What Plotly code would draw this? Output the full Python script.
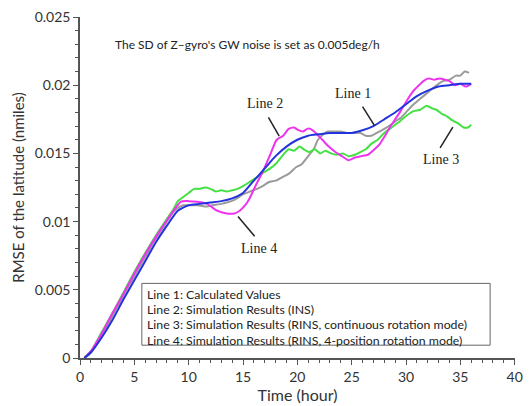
import plotly.graph_objects as go

# ---- data ----
x1 = [0.4, 1, 2, 3, 4, 5, 6, 7, 8, 9, 10, 11, 12, 13, 14, 15, 16, 17, 18, 19, 20, 21, 22, 23, 24, 25,
      26, 27, 28, 29, 30, 31, 32, 33, 34, 35, 36]
y1 = [0, 0.0004, 0.0015, 0.0028, 0.0043, 0.0057, 0.0071, 0.0085, 0.0097, 0.0108, 0.0112, 0.0113, 0.0114,
      0.0115, 0.0117, 0.0121, 0.0130, 0.0139, 0.0148, 0.0155, 0.0160, 0.0163, 0.0164, 0.0165, 0.0165,
      0.0165, 0.0167, 0.0170, 0.0175, 0.0180, 0.0186, 0.0192, 0.0196, 0.0199, 0.0200, 0.0201, 0.0201]

x2 = [0.4, 1, 2, 3, 4, 5, 6, 7, 8, 8.7, 9.3, 10, 10.8, 11.7, 12.6, 13.5, 14.2, 14.7, 15.2, 15.6, 16.2,
      16.9, 17.5, 18.1, 18.7, 19.2, 19.7, 20.1, 20.5, 20.9, 21.2, 21.7, 22.3, 22.9, 23.5, 24.1, 24.7,
      25.3, 25.9, 26.5, 27.1, 27.6, 28, 28.5, 29, 29.5, 30.1, 30.7, 31.2, 31.6, 32.1, 32.6, 33.1, 33.6,
      34, 34.5, 35, 35.5, 36]
y2 = [0, 0.0005, 0.0018, 0.0033, 0.0047, 0.0062, 0.0076, 0.0089, 0.0101, 0.0109, 0.01147, 0.0115,
      0.01145, 0.0113, 0.0108, 0.0106, 0.0106, 0.0108, 0.0112, 0.0117, 0.0127, 0.0138, 0.0149, 0.0160,
      0.0163, 0.0168, 0.0169, 0.0167, 0.0166, 0.0168, 0.0168, 0.0165, 0.0160, 0.0155, 0.0151, 0.0148,
      0.0145, 0.0147, 0.0148, 0.0149, 0.0153, 0.0157, 0.0162, 0.0169, 0.0175, 0.0181, 0.0189, 0.0196,
      0.0200, 0.0203, 0.0205, 0.0204, 0.0205, 0.0204, 0.0203, 0.0200, 0.0201, 0.0199, 0.0201]

x3 = [0.4, 1, 2, 3, 4, 5, 6, 7, 8, 8.6, 9, 9.5, 10, 10.5, 11, 11.5, 12, 12.5, 13, 13.5, 14, 14.5, 15,
      15.6, 16.2, 16.9, 17.5, 18.1, 18.6, 19.2, 19.7, 20.2, 20.6, 21.1, 21.6, 22.1, 22.6, 23.1, 23.6,
      24.2, 24.7, 25.3, 25.8, 26.3, 26.8, 27.4, 28, 28.5, 29, 29.5, 30.1, 30.7, 31.3, 31.9, 32.4, 32.8,
      33.3, 33.8, 34.3, 34.8, 35.3, 35.7, 36]
y3 = [0, 0.0005, 0.0019, 0.0033, 0.0048, 0.0063, 0.0077, 0.0090, 0.0102, 0.0109, 0.0115, 0.0118,
      0.0121, 0.0124, 0.0124, 0.0125, 0.0124, 0.0122, 0.0123, 0.0122, 0.0123, 0.0124, 0.0126, 0.0129,
      0.0132, 0.0136, 0.0139, 0.0143, 0.0148, 0.0153, 0.0152, 0.0155, 0.0153, 0.0151, 0.0153, 0.0150,
      0.0152, 0.0150, 0.0149, 0.0150, 0.0148, 0.0149, 0.0151, 0.0153, 0.0157, 0.0160, 0.0165, 0.0168,
      0.0171, 0.0174, 0.0178, 0.0181, 0.0182, 0.0185, 0.0183, 0.0182, 0.0179, 0.0177, 0.0174, 0.0172,
      0.0169, 0.0169, 0.0171]

x4 = [0.4, 1, 2, 3, 4, 5, 6, 7, 8, 8.6, 9, 9.5, 10, 10.8, 11.5, 12.2, 13, 13.5, 14.2, 15, 15.6, 16.3,
      16.8, 17.4, 18, 18.7, 19.2, 19.9, 20.4, 21, 21.5, 21.9, 22.4, 22.8, 23.4, 24, 24.6, 25.3, 25.8,
      26.3, 26.8, 27.3, 28, 28.6, 29.1, 29.5, 30.1, 30.7, 31.3, 31.9, 32.5, 33, 33.4, 34, 34.6, 35,
      35.4, 35.8]
y4 = [0, 0.0004, 0.0017, 0.0031, 0.0046, 0.0060, 0.0074, 0.0088, 0.0100, 0.0107, 0.0110, 0.0112,
      0.0112, 0.0112, 0.0111, 0.0112, 0.0113, 0.0114, 0.0116, 0.0120, 0.0122, 0.0124, 0.0126, 0.0129,
      0.0130, 0.0133, 0.0135, 0.0140, 0.0142, 0.0148, 0.0153, 0.0160, 0.0164, 0.0166, 0.0166, 0.0166,
      0.0165, 0.0165, 0.0165, 0.0163, 0.0163, 0.0165, 0.0168, 0.0171, 0.0174, 0.0176, 0.0181, 0.0186,
      0.0190, 0.0194, 0.0198, 0.0201, 0.0203, 0.0204, 0.0207, 0.0207, 0.0210, 0.0209]

legend_lines = [
    "Line 1: Calculated Values",
    "Line 2: Simulation Results (INS)",
    "Line 3: Simulation Results (RINS, continuous rotation mode)",
    "Line 4: Simulation Results (RINS, 4-position rotation mode)",
]
note_text = "The SD of Z\u2013gyro's GW noise is set as 0.005deg/h"

SANS = "Lato, 'Open Sans', sans-serif"
SERIF = "'Liberation Serif', 'DejaVu Serif', serif"

fig = go.Figure()
series = [
    (x4, y4, "#9a9a9a"),
    (x3, y3, "#44e044"),
    (x2, y2, "#ee33ee"),
    (x1, y1, "#2233dd"),
]
for xs, ys, c in series:
    fig.add_trace(go.Scatter(x=xs, y=ys, mode="lines", line=dict(color=c, width=2, shape="spline", smoothing=0.6),
                             showlegend=False, hoverinfo="skip"))

# label annotations with leader lines
labels = [
    ("Line 2", 16.98, 0.01865, 17.34, 0.01764, 18.33, 0.01627),
    ("Line 1", 25.1, 0.01937, 26.0, 0.01843, 27.09, 0.01706),
    ("Line 3", 33.2, 0.01454, 33.14, 0.01541, 34.31, 0.01692),
    ("Line 4", 16.43, 0.00806, 16.07, 0.00893, 14.54, 0.01037),
]
for txt, tx, ty, lx0, ly0, lx1, ly1 in labels:
    fig.add_annotation(x=tx, y=ty, text=txt, showarrow=False,
                       font=dict(family=SERIF, size=14, color="#222"))
    fig.add_shape(type="line", x0=lx0, y0=ly0, x1=lx1, y1=ly1, line=dict(color="#222", width=1.5))

fig.add_annotation(x=3.07, y=0.02297, xanchor="left", yanchor="middle", text=note_text, showarrow=False,
                   font=dict(family=SANS, size=12, color="#222"))

# legend box
fig.add_shape(type="rect", x0=5.69, x1=37.74, y0=0.00094, y1=0.00547,
              line=dict(color="#666", width=1), fillcolor="rgba(0,0,0,0)")
leg_y = [0.00466, 0.00354, 0.00242, 0.00130]
for txt, yy in zip(legend_lines, leg_y):
    fig.add_annotation(x=6.0, y=yy, xanchor="left", yanchor="middle", align="left",
                       text=txt, showarrow=False,
                       font=dict(family=SANS, size=12.3, color="#222"))

axis_common = dict(showline=True, linecolor="#555", linewidth=1.5, ticks="outside", ticklen=5,
                   tickcolor="#555", tickwidth=1.2, showgrid=False, zeroline=False,
                   tickfont=dict(family=SANS, size=14, color="#333"))
fig.update_xaxes(range=[0, 40.03], tickvals=[0, 5, 10, 15, 20, 25, 30, 35, 40],
                 minor=dict(dtick=1, tick0=0, ticks="outside", ticklen=3, tickcolor="#555"),
                 title=dict(text="Time (hour)", font=dict(family=SANS, size=16, color="#333"), standoff=2),
                 **axis_common)
fig.update_yaxes(range=[0, 0.025], dtick=0.005, tick0=0,
                 minor=dict(dtick=0.001, ticks="outside", ticklen=3, tickcolor="#555"),
                 title=dict(text="RMSE of the latitude (nmiles)", font=dict(family=SANS, size=15, color="#333"),
                            standoff=6),
                 **axis_common)
fig.update_layout(width=531, height=406, margin=dict(l=80, r=8, t=15, b=44),
                  plot_bgcolor="white", paper_bgcolor="white")

fig.write_html("out.html")
